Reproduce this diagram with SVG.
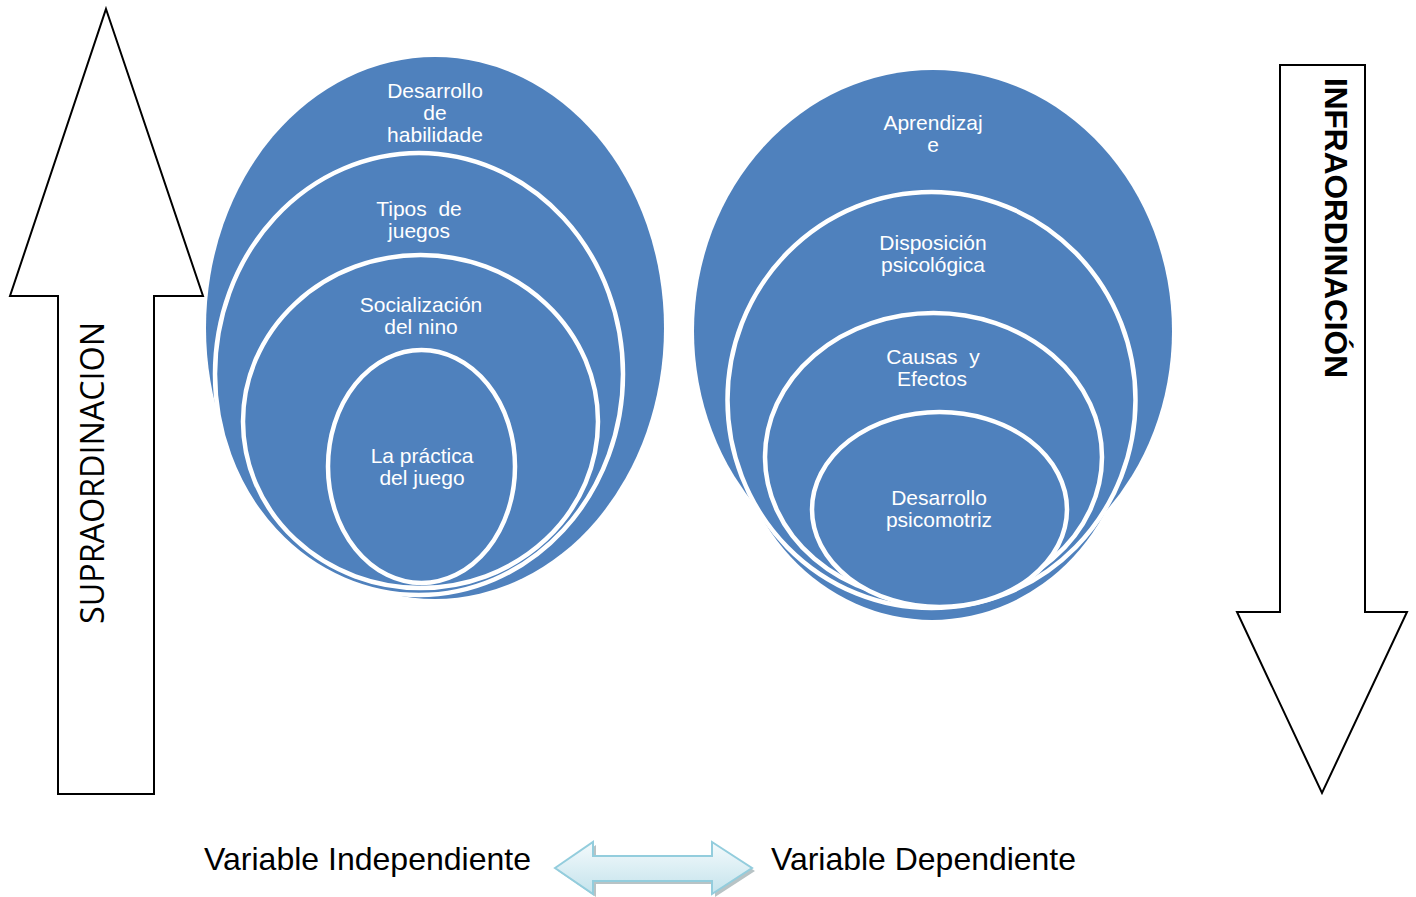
<svg xmlns="http://www.w3.org/2000/svg" width="1416" height="897" viewBox="0 0 1416 897">
<defs>
<style>
.bg{fill:#ffffff}
.blk{fill:#ffffff;stroke:#000000;stroke-width:2;stroke-linejoin:miter}
.disc{fill:#4f81bd}
.ring{fill:#4f81bd;stroke:#ffffff;stroke-width:4.5}
.lbl{font-family:"Liberation Sans",Arial,sans-serif;font-size:21px;fill:#ffffff;text-anchor:middle}
.var{font-family:"Liberation Sans",Arial,sans-serif;font-size:32px;fill:#000000}
.supra{font-family:"Open Sans","Noto Sans",sans-serif;font-size:33px;fill:#000000}
.infra{font-family:"Liberation Sans",Arial,sans-serif;font-size:31px;font-weight:bold;fill:#000000}
</style>
<linearGradient id="dblGrad" x1="0" y1="0" x2="0" y2="1">
<stop offset="0" stop-color="#f4fafc"/>
<stop offset="1" stop-color="#c4e3ec"/>
</linearGradient>
</defs>
<rect class="bg" x="0" y="0" width="1416" height="897"/>

<g id="arrow-supra">
<polygon class="blk" points="106,9 203,296 154,296 154,794 58,794 58,296 10,296"/>
<text class="supra" transform="translate(104,624) rotate(-90)" textLength="302" lengthAdjust="spacingAndGlyphs">SUPRAORDINACION</text>
</g>

<g id="arrow-infra">
<polygon class="blk" points="1280,65 1365,65 1365,612 1407,612 1322,793 1237,612 1280,612"/>
<text class="infra" transform="translate(1325,78) rotate(90)" textLength="300" lengthAdjust="spacingAndGlyphs">INFRAORDINACIÓN</text>
</g>

<g id="left-circles">
<ellipse class="disc" cx="435" cy="328" rx="229" ry="271"/>
<ellipse class="ring" cx="419" cy="374" rx="204" ry="221"/>
<ellipse class="ring" cx="420.5" cy="421.5" rx="177.5" ry="166.5"/>
<ellipse class="ring" cx="421.5" cy="466.5" rx="93.5" ry="116.5"/>
<text class="lbl"><tspan x="435" y="98">Desarrollo</tspan><tspan x="435" y="120">de</tspan><tspan x="435" y="142">habilidade</tspan></text>
<text class="lbl" xml:space="preserve"><tspan x="419" y="216">Tipos  de</tspan><tspan x="419" y="238">juegos</tspan></text>
<text class="lbl"><tspan x="421" y="312">Socialización</tspan><tspan x="421" y="334">del nino</tspan></text>
<text class="lbl"><tspan x="422" y="463">La práctica</tspan><tspan x="422" y="485">del juego</tspan></text>
</g>

<g id="right-circles">
<ellipse class="disc" cx="933" cy="331" rx="239" ry="261"/>
<ellipse class="disc" cx="932" cy="404" rx="200" ry="216"/>
<ellipse class="ring" cx="931.5" cy="400" rx="204" ry="208"/>
<ellipse class="ring" cx="933.5" cy="457" rx="168.5" ry="144"/>
<ellipse class="ring" cx="939.5" cy="509.5" rx="127.5" ry="97.5"/>
<text class="lbl"><tspan x="933" y="130">Aprendizaj</tspan><tspan x="933" y="152">e</tspan></text>
<text class="lbl"><tspan x="933" y="250">Disposición</tspan><tspan x="933" y="272">psicológica</tspan></text>
<text class="lbl" xml:space="preserve"><tspan x="933" y="364">Causas  y</tspan><tspan x="932" y="386">Efectos</tspan></text>
<text class="lbl"><tspan x="939" y="505">Desarrollo</tspan><tspan x="939" y="527">psicomotriz</tspan></text>
</g>

<g id="connectors">
<polygon points="558,871 596,845 596,859 715,859 715,845 755,871 715,897 715,884 596,884 596,897" fill="#9aa9ad" opacity="0.7"/>
<polygon points="555,868 593,842 593,856 712,856 712,842 752,868 712,894 712,881 593,881 593,894" fill="url(#dblGrad)" stroke="#93cddd" stroke-width="2" stroke-linejoin="miter"/>
</g>

<g id="variable-labels">
<text class="var" x="204" y="870" textLength="327" lengthAdjust="spacingAndGlyphs">Variable Independiente</text>
<text class="var" x="771" y="870" textLength="305" lengthAdjust="spacingAndGlyphs">Variable Dependiente</text>
</g>
</svg>
